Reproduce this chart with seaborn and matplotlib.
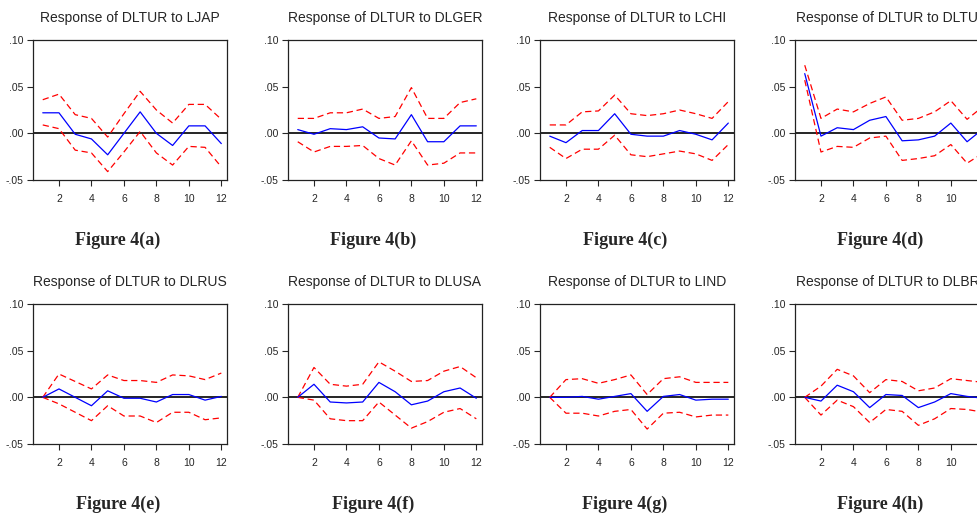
import numpy as np
import pandas as pd
import matplotlib
matplotlib.use('Agg')
import matplotlib.pyplot as plt
import seaborn as sns

steps = list(range(1, 13))

titles = ['Response of DLTUR to LJAP', 'Response of DLTUR to DLGER',
          'Response of DLTUR to LCHI', 'Response of DLTUR to DLTUR',
          'Response of DLTUR to DLRUS', 'Response of DLTUR to DLUSA',
          'Response of DLTUR to LIND', 'Response of DLTUR to DLBRE']
captions = ['Figure 4(a)', 'Figure 4(b)', 'Figure 4(c)', 'Figure 4(d)',
            'Figure 4(e)', 'Figure 4(f)', 'Figure 4(g)', 'Figure 4(h)']

# impulse responses (blue) and +/- 2 s.e. bands (red)
ljap_resp = [0.022, 0.022, -0.001, -0.006, -0.023, 0.000, 0.023, 0.000, -0.013, 0.008, 0.008, -0.011]
ljap_hi = [0.036, 0.042, 0.020, 0.016, -0.004, 0.021, 0.045, 0.025, 0.011, 0.031, 0.031, 0.015]
ljap_lo = [0.009, 0.005, -0.018, -0.021, -0.041, -0.020, 0.002, -0.021, -0.034, -0.014, -0.015, -0.036]

dlger_resp = [0.004, -0.001, 0.005, 0.004, 0.007, -0.005, -0.006, 0.020, -0.009, -0.009, 0.008, 0.008]
dlger_hi = [0.016, 0.016, 0.022, 0.022, 0.026, 0.016, 0.018, 0.049, 0.016, 0.016, 0.033, 0.037]
dlger_lo = [-0.009, -0.020, -0.014, -0.014, -0.013, -0.027, -0.034, -0.008, -0.034, -0.032, -0.021, -0.021]

lchi_resp = [-0.003, -0.010, 0.003, 0.003, 0.021, -0.001, -0.003, -0.003, 0.003, -0.001, -0.007, 0.011]
lchi_hi = [0.009, 0.009, 0.023, 0.024, 0.041, 0.021, 0.019, 0.021, 0.025, 0.021, 0.016, 0.034]
lchi_lo = [-0.015, -0.027, -0.017, -0.017, -0.002, -0.023, -0.025, -0.022, -0.019, -0.022, -0.029, -0.012]

dltur_resp = [0.064, -0.003, 0.006, 0.004, 0.014, 0.018, -0.008, -0.007, -0.003, 0.011, -0.009, 0.005]
dltur_hi = [0.073, 0.016, 0.026, 0.023, 0.032, 0.039, 0.014, 0.016, 0.023, 0.035, 0.015, 0.029]
dltur_lo = [0.057, -0.020, -0.014, -0.015, -0.005, -0.003, -0.029, -0.027, -0.024, -0.012, -0.032, -0.021]

dlrus_resp = [0.000, 0.009, 0.000, -0.009, 0.007, -0.001, -0.001, -0.005, 0.003, 0.003, -0.003, 0.001]
dlrus_hi = [0.000, 0.025, 0.017, 0.009, 0.024, 0.018, 0.018, 0.016, 0.024, 0.023, 0.019, 0.026]
dlrus_lo = [0.000, -0.007, -0.016, -0.025, -0.009, -0.020, -0.020, -0.027, -0.016, -0.016, -0.024, -0.022]

dlusa_resp = [0.000, 0.014, -0.005, -0.006, -0.005, 0.016, 0.006, -0.008, -0.004, 0.006, 0.010, -0.001]
dlusa_hi = [0.000, 0.032, 0.014, 0.012, 0.014, 0.038, 0.028, 0.017, 0.018, 0.028, 0.033, 0.021]
dlusa_lo = [0.000, -0.003, -0.023, -0.025, -0.025, -0.005, -0.019, -0.033, -0.026, -0.016, -0.012, -0.023]

lind_resp = [0.000, 0.000, 0.001, -0.002, 0.001, 0.004, -0.015, 0.001, 0.003, -0.003, -0.002, -0.002]
lind_hi = [0.000, 0.019, 0.020, 0.015, 0.019, 0.024, 0.003, 0.020, 0.022, 0.016, 0.016, 0.016]
lind_lo = [0.000, -0.017, -0.017, -0.020, -0.015, -0.013, -0.034, -0.017, -0.016, -0.021, -0.019, -0.019]

dlbre_resp = [0.000, -0.004, 0.013, 0.006, -0.011, 0.003, 0.002, -0.011, -0.005, 0.004, 0.001, -0.001]
dlbre_hi = [0.000, 0.012, 0.030, 0.023, 0.005, 0.019, 0.017, 0.007, 0.010, 0.020, 0.018, 0.016]
dlbre_lo = [0.000, -0.019, -0.003, -0.010, -0.027, -0.013, -0.015, -0.030, -0.023, -0.012, -0.013, -0.016]

panels = [(ljap_resp, ljap_hi, ljap_lo), (dlger_resp, dlger_hi, dlger_lo),
          (lchi_resp, lchi_hi, lchi_lo), (dltur_resp, dltur_hi, dltur_lo),
          (dlrus_resp, dlrus_hi, dlrus_lo), (dlusa_resp, dlusa_hi, dlusa_lo),
          (lind_resp, lind_hi, lind_lo), (dlbre_resp, dlbre_hi, dlbre_lo)]

sns.set_style('ticks')
plt.rcParams['font.family'] = ['Liberation Sans', 'DejaVu Sans']

W, H = 977, 515
fig = plt.figure(figsize=(W / 100, H / 100), dpi=100)

col_left = [33, 288, 540, 795]
row_top = [40, 304]
ax_w, ax_h = 194, 140

for i, (resp, hi, lo) in enumerate(panels):
    r, c = divmod(i, 4)
    left = col_left[c]
    top = row_top[r]
    ax = fig.add_axes([left / W, 1 - (top + ax_h) / H, ax_w / W, ax_h / H])
    df = pd.DataFrame({'step': steps, 'resp': resp, 'hi': hi, 'lo': lo})
    ax.axhline(0, color='black', lw=1.2, zorder=1)
    sns.lineplot(data=df, x='step', y='hi', ax=ax, color='red', lw=0.9, linestyle=(0, (5, 3)))
    sns.lineplot(data=df, x='step', y='lo', ax=ax, color='red', lw=0.9, linestyle=(0, (5, 3)))
    sns.lineplot(data=df, x='step', y='resp', ax=ax, color='blue', lw=0.9)
    ax.set_xlim(0.4, 12.35)
    ax.set_ylim(-0.05, 0.10)
    ax.set_yticks([-0.05, 0.0, 0.05, 0.10])
    ax.set_yticklabels(['-.05', '.00', '.05', '.10'])
    ax.set_xticks([2, 4, 6, 8, 10, 12])
    ax.set_xticklabels(['2', '4', '6', '8', '10', '12'])
    ax.set_xlabel('')
    ax.set_ylabel('')
    ax.tick_params(labelsize=7.5, length=4, width=0.8)
    ax.tick_params(axis='x', pad=6)
    ax.tick_params(axis='y', pad=3)
    for s in ax.spines.values():
        s.set_visible(True)
        s.set_linewidth(0.9)
        s.set_color('#222222')
    ax.set_title(titles[i], fontsize=10, pad=13)
    fig.text((left + ax_w / 2 - 12) / W, 1 - (top + 200) / H, captions[i],
             ha='center', va='center', fontsize=13, fontweight='bold',
             family=['Liberation Serif', 'DejaVu Serif'])

fig.savefig('out.png', dpi=100)
